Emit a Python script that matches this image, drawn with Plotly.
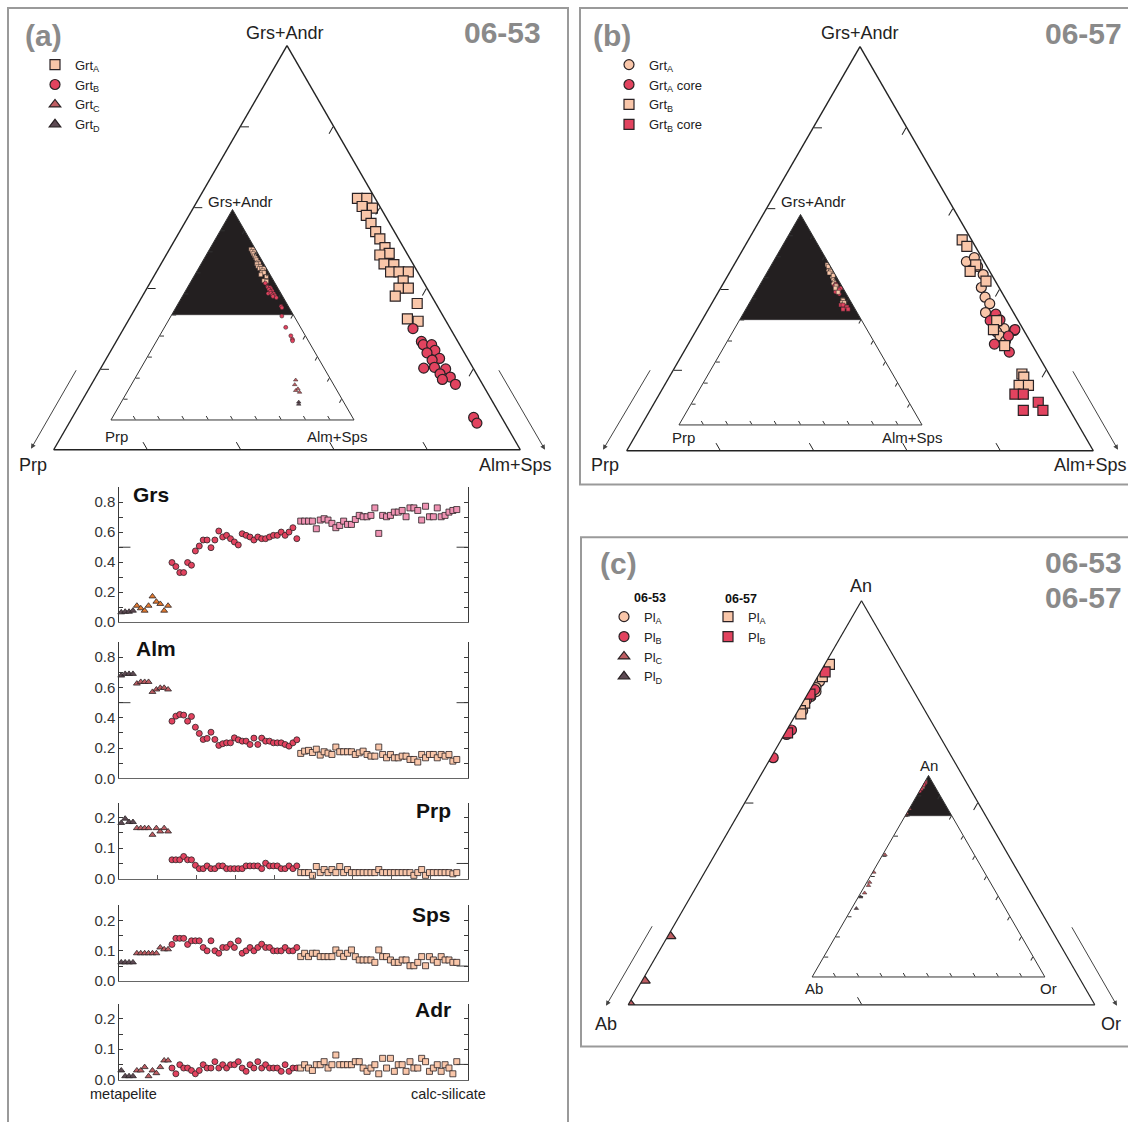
import plotly.graph_objects as go

W, H = 1128, 1122


def PX(x):
    return x / W


def PY(y):
    return 1 - y / H


OUT = '#2a2225'
LIGHT = '#f9c6a9'
RED = '#e2435f'
MAUVE = '#bf5d62'
DARK = '#5d4a53'
PINK = '#ef93b3'
ORANGE = '#e57b30'
GRAYTXT = '#8a8a8a'
FONT = 'Arial, Liberation Sans, Helvetica, sans-serif'

# ---------------- data ----------------
# (a) sample 06-53 garnet: Grs+Andr and Prp fractions (Alm+Sps = remainder)
grtA53_grsandr = [0.811, 0.811, 0.801, 0.799, 0.790, 0.780, 0.770, 0.761, 0.750, 0.743, 0.741, 0.730,
                  0.729, 0.720, 0.720, 0.720, 0.709, 0.700, 0.700, 0.690, 0.681, 0.662, 0.659]
grtA53_prp = [0.019, 0.009, 0.019, 0.009, 0.020, 0.020, 0.020, 0.020, 0.020, 0.019, 0.030, 0.031,
              0.021, 0.029, 0.020, 0.010, 0.021, 0.030, 0.020, 0.039, 0.020, 0.040, 0.030]
grtB53_grsandr = [0.650, 0.634, 0.630, 0.630, 0.623, 0.620, 0.613, 0.611, 0.601, 0.602, 0.600, 0.594,
                  0.590, 0.587, 0.581, 0.540, 0.533, 0.494, 0.440, 0.400, 0.383, 0.376]
grtB53_prp = [0.040, 0.039, 0.039, 0.030, 0.030, 0.040, 0.030, 0.039, 0.053, 0.041, 0.030, 0.039,
              0.030, 0.040, 0.029, 0.030, 0.030, 0.050, 0.061, 0.060, 0.062, 0.065]
grtC53_grsandr = [0.190, 0.168, 0.148, 0.140, 0.132]
grtC53_prp = [0.145, 0.160, 0.157, 0.170, 0.158]
grtD53_grsandr = [0.085, 0.075]
grtD53_prp = [0.185, 0.190]

# (b) sample 06-57 garnet
grtA57_grsandr = [0.734, 0.739, 0.728, 0.723, 0.718, 0.702, 0.690, 0.682, 0.671, 0.663, 0.655, 0.651,
                  0.647, 0.642, 0.649, 0.636]
grtA57_prp = [0.019, 0.008, 0.010, 0.020, 0.009, 0.019, 0.021, 0.020, 0.030, 0.026, 0.027, 0.020,
              0.030, 0.029, 0.010, 0.026]
grtAcore57_grsandr = [0.669, 0.661, 0.662, 0.650, 0.642, 0.632, 0.622]
grtAcore57_prp = [0.020, 0.030, 0.019, 0.009, 0.020, 0.040, 0.029]
grtB57_grsandr = [0.761, 0.753, 0.730, 0.722, 0.710, 0.661, 0.650, 0.630, 0.595, 0.591, 0.581, 0.581]
grtB57_prp = [0.010, 0.009, 0.011, 0.021, 0.010, 0.023, 0.032, 0.030, 0.029, 0.029, 0.039, 0.029]
grtBcore57_grsandr = [0.570, 0.570, 0.560, 0.550, 0.550]
grtBcore57_prp = [0.049, 0.040, 0.029, 0.050, 0.029]

# (c) plagioclase: An and Or fractions (Ab = remainder)
plA53_an = [0.960, 0.957, 0.955, 0.9526, 0.9456]
plA53_or = [0.002, 0.002, 0.003, 0.002, 0.002]
plB53_an = [0.956, 0.951, 0.936, 0.9338, 0.9223]
plB53_or = [0.002, 0.001, 0.002, 0.001, 0.001]
plC53_an = [0.834, 0.812, 0.801, 0.606, 0.520, 0.470, 0.454, 0.417]
plC53_or = [0.001, 0.001, 0.000, 0.010, 0.005, 0.012, 0.015, 0.017]
plD53_an = [0.397, 0.340]
plD53_or = [0.010, 0.020]
plA57_an = [0.9685, 0.9624, 0.9493, 0.9456, 0.944]
plA57_or = [0.002, 0.002, 0.001, 0.001, 0.002]
plB57_an = [0.9648, 0.9538, 0.9346]
plB57_or = [0.002, 0.001, 0.001]

# (a) garnet profiles, metapelite -> calc-silicate (Grt_D, Grt_C, Grt_B, Grt_A)
grs_D = [0.066, 0.07, 0.07, 0.077]
grs_C = [0.11, 0.093, 0.077, 0.11, 0.172, 0.137, 0.122, 0.077, 0.11]
grs_B = [0.398, 0.371, 0.331, 0.331, 0.398, 0.38, 0.475, 0.508, 0.548, 0.548, 0.497, 0.548, 0.608,
         0.568, 0.579, 0.557, 0.535, 0.515, 0.59, 0.579, 0.568, 0.548, 0.568, 0.557, 0.557, 0.568,
         0.579, 0.579, 0.601, 0.579, 0.601, 0.63, 0.557]
grs_A = [0.674, 0.674, 0.674, 0.674, 0.623, 0.681, 0.69, 0.681, 0.659, 0.63, 0.645, 0.674, 0.652,
         0.652, 0.685, 0.712, 0.703, 0.703, 0.712, 0.762, 0.592, 0.712, 0.703, 0.712, 0.734, 0.734,
         0.745, 0.703, 0.762, 0.762, 0.745, 0.681, 0.773, 0.703, 0.703, 0.762, 0.703, 0.712, 0.734,
         0.745, 0.751]

alm_D = [0.679, 0.69, 0.69, 0.69]
alm_C = [0.626, 0.637, 0.637, 0.637, 0.571, 0.587, 0.598, 0.598, 0.587]
alm_B = [0.378, 0.411, 0.422, 0.418, 0.378, 0.409, 0.338, 0.297, 0.257, 0.264, 0.305, 0.257, 0.218,
         0.229, 0.235, 0.235, 0.268, 0.255, 0.246, 0.246, 0.224, 0.266, 0.224, 0.266, 0.246, 0.246,
         0.235, 0.235, 0.235, 0.224, 0.213, 0.235, 0.255]
alm_A = [0.165, 0.18, 0.185, 0.171, 0.193, 0.154, 0.176, 0.167, 0.158, 0.207, 0.176, 0.176, 0.176,
         0.176, 0.158, 0.169, 0.18, 0.158, 0.147, 0.147, 0.207, 0.158, 0.136, 0.158, 0.136, 0.136,
         0.147, 0.147, 0.125, 0.125, 0.108, 0.158, 0.136, 0.158, 0.158, 0.136, 0.158, 0.147, 0.158,
         0.114, 0.125]

prp_D = [0.183, 0.197, 0.186, 0.186]
prp_C = [0.166, 0.166, 0.166, 0.166, 0.144, 0.166, 0.155, 0.166, 0.155]
prp_B = [0.062, 0.062, 0.062, 0.073, 0.062, 0.062, 0.044, 0.033, 0.033, 0.042, 0.033, 0.033, 0.042,
         0.042, 0.033, 0.033, 0.033, 0.033, 0.033, 0.042, 0.042, 0.042, 0.042, 0.033, 0.051, 0.042,
         0.042, 0.042, 0.033, 0.033, 0.042, 0.033, 0.042]
prp_A = [0.02, 0.02, 0.02, 0.011, 0.04, 0.02, 0.03, 0.02, 0.03, 0.02, 0.04, 0.02, 0.03, 0.02, 0.02,
         0.02, 0.02, 0.02, 0.02, 0.02, 0.03, 0.02, 0.02, 0.02, 0.02, 0.02, 0.02, 0.02, 0.02, 0.011,
         0.02, 0.03, 0.011, 0.02, 0.02, 0.02, 0.02, 0.02, 0.02, 0.016, 0.02]

sps_D = [0.062, 0.062, 0.062, 0.062]
sps_C = [0.092, 0.092, 0.092, 0.092, 0.092, 0.092, 0.111, 0.105, 0.105]
sps_B = [0.121, 0.141, 0.141, 0.141, 0.121, 0.133, 0.133, 0.133, 0.111, 0.10, 0.133, 0.10, 0.092,
         0.111, 0.111, 0.122, 0.111, 0.133, 0.092, 0.10, 0.111, 0.10, 0.111, 0.122, 0.111, 0.111,
         0.10, 0.10, 0.10, 0.111, 0.10, 0.10, 0.111]
sps_A = [0.081, 0.092, 0.081, 0.092, 0.092, 0.081, 0.081, 0.081, 0.081, 0.103, 0.092, 0.081, 0.092,
         0.103, 0.081, 0.07, 0.07, 0.07, 0.07, 0.062, 0.103, 0.081, 0.081, 0.07, 0.062, 0.062, 0.07,
         0.07, 0.051, 0.051, 0.062, 0.081, 0.051, 0.081, 0.07, 0.062, 0.081, 0.07, 0.07, 0.062, 0.062]

adr_D = [0.03, 0.011, 0.011, 0.011]
adr_C = [0.03, 0.03, 0.041, 0.011, 0.03, 0.021, 0.041, 0.063, 0.063]
adr_B = [0.038, 0.019, 0.049, 0.038, 0.038, 0.03, 0.019, 0.03, 0.049, 0.038, 0.038, 0.059, 0.038,
         0.049, 0.038, 0.049, 0.049, 0.059, 0.038, 0.027, 0.049, 0.038, 0.059, 0.038, 0.049, 0.038,
         0.038, 0.038, 0.027, 0.049, 0.027, 0.038, 0.038]
adr_A = [0.038, 0.049, 0.038, 0.03, 0.049, 0.049, 0.059, 0.038, 0.049, 0.081, 0.049, 0.049, 0.049,
         0.049, 0.059, 0.059, 0.038, 0.027, 0.038, 0.049, 0.019, 0.07, 0.038, 0.07, 0.027, 0.049,
         0.049, 0.027, 0.059, 0.038, 0.038, 0.07, 0.059, 0.027, 0.038, 0.049, 0.027, 0.049, 0.038,
         0.019, 0.059]

ZOOM_GRT = 0.5   # main garnet ternaries show Grs+Andr >= 0.5
ZOOM_PL = 0.8    # main plagioclase ternary shows An >= 0.8

fig = go.Figure()


def rest(p, q):
    return [round(1 - x - y, 4) for x, y in zip(p, q)]


def tern(a, b, c, sub, name, symbol, color, size, lw, legend=None):
    fig.add_trace(go.Scatterternary(
        a=a, b=b, c=c, mode='markers', subplot=sub, name=name,
        marker=dict(symbol=symbol, color=color, size=size, line=dict(color=OUT, width=lw)),
        showlegend=legend is not None, legend=legend or 'legend', hoverinfo='skip'))


def zoom_region(sub, zmin):
    fig.add_trace(go.Scatterternary(
        a=[1, zmin, zmin, 1], b=[0, 1 - zmin, 0, 0], c=[0, 0, 1 - zmin, 0],
        mode='lines', fill='toself', fillcolor='#231f20', line=dict(width=0.5, color='#231f20'),
        subplot=sub, showlegend=False, hoverinfo='skip'))


# ---- panel (a) ternaries ----
series_a = [
    (grtA53_grsandr, grtA53_prp, 'Grt<sub>A</sub>', 'square', LIGHT),
    (grtB53_grsandr, grtB53_prp, 'Grt<sub>B</sub>', 'circle', RED),
    (grtC53_grsandr, grtC53_prp, 'Grt<sub>C</sub>', 'triangle-up', MAUVE),
    (grtD53_grsandr, grtD53_prp, 'Grt<sub>D</sub>', 'triangle-up', DARK),
]
zoom_region('ternary2', ZOOM_GRT)
for a, b, name, sym, col in series_a:
    tern(a, b, rest(a, b), 'ternary', name, sym, col, 10, 1.2, legend='legend')
for a, b, name, sym, col in series_a:
    tern(a, b, rest(a, b), 'ternary2', name, sym, col, 4, 0.5)

# ---- panel (b) ternaries ----
series_b = [
    (grtA57_grsandr, grtA57_prp, 'Grt<sub>A</sub>', 'circle', LIGHT),
    (grtAcore57_grsandr, grtAcore57_prp, 'Grt<sub>A</sub> core', 'circle', RED),
    (grtB57_grsandr, grtB57_prp, 'Grt<sub>B</sub>', 'square', LIGHT),
    (grtBcore57_grsandr, grtBcore57_prp, 'Grt<sub>B</sub> core', 'square', RED),
]
zoom_region('ternary4', ZOOM_GRT)
for a, b, name, sym, col in series_b:
    tern(a, b, rest(a, b), 'ternary3', name, sym, col, 10, 1.2, legend='legend2')
for a, b, name, sym, col in series_b:
    tern(a, b, rest(a, b), 'ternary4', name, sym, col, 4, 0.5)

# ---- panel (c) ternaries ----
series_c = [
    (plA53_an, plA53_or, 'Pl<sub>A</sub>', 'circle', LIGHT, 'legend3'),
    (plB53_an, plB53_or, 'Pl<sub>B</sub>', 'circle', RED, 'legend3'),
    (plC53_an, plC53_or, 'Pl<sub>C</sub>', 'triangle-up', MAUVE, 'legend3'),
    (plD53_an, plD53_or, 'Pl<sub>D</sub>', 'triangle-up', DARK, 'legend3'),
    (plA57_an, plA57_or, 'Pl<sub>A</sub>', 'square', LIGHT, 'legend4'),
    (plB57_an, plB57_or, 'Pl<sub>B</sub>', 'square', RED, 'legend4'),
]
zoom_region('ternary6', ZOOM_PL)
for an, orr, name, sym, col, lg in series_c:
    tern(an, rest(an, orr), orr, 'ternary5', name, sym, col, 10, 1.2, legend=lg)
for an, orr, name, sym, col, lg in series_c:
    tern(an, rest(an, orr), orr, 'ternary6', name, sym, col, 4, 0.5)

# ---- panel (a) composition profiles ----
groups = [('D', 'triangle-up'), ('C', 'triangle-up'), ('B', 'circle'), ('A', 'square')]
profiles = [
    ('Grs', {'D': grs_D, 'C': grs_C, 'B': grs_B, 'A': grs_A},
     {'D': DARK, 'C': ORANGE, 'B': RED, 'A': PINK}),
    ('Alm', {'D': alm_D, 'C': alm_C, 'B': alm_B, 'A': alm_A},
     {'D': DARK, 'C': MAUVE, 'B': RED, 'A': LIGHT}),
    ('Prp', {'D': prp_D, 'C': prp_C, 'B': prp_B, 'A': prp_A},
     {'D': DARK, 'C': MAUVE, 'B': RED, 'A': LIGHT}),
    ('Sps', {'D': sps_D, 'C': sps_C, 'B': sps_B, 'A': sps_A},
     {'D': DARK, 'C': MAUVE, 'B': RED, 'A': LIGHT}),
    ('Adr', {'D': adr_D, 'C': adr_C, 'B': adr_B, 'A': adr_A},
     {'D': DARK, 'C': MAUVE, 'B': RED, 'A': LIGHT}),
]
for i, (lab, vals, cols) in enumerate(profiles):
    xs = 'x' if i == 0 else 'x%d' % (i + 1)
    ys = 'y' if i == 0 else 'y%d' % (i + 1)
    start = 0
    for g, sym in groups:
        v = vals[g]
        fig.add_trace(go.Scatter(
            x=list(range(start, start + len(v))), y=v, mode='markers', xaxis=xs, yaxis=ys,
            marker=dict(symbol=sym, size=6, color=cols[g], line=dict(color=OUT, width=0.8)),
            showlegend=False, hoverinfo='skip', cliponaxis=False))
        start += len(v)


# ---------------- layout ----------------
def tern_layout(x0, x1, ytop, ybot, amin, tv_a, tv_bc, lw, tl, lc):
    def ax(tv, mn):
        return dict(min=mn, showgrid=False, showticklabels=False, ticks='inside', ticklen=tl,
                    tickwidth=1, tickcolor=lc, linecolor=lc, linewidth=lw, tickmode='array',
                    tickvals=tv, title=dict(text=''))
    return dict(domain=dict(x=[PX(x0), PX(x1)], y=[PY(ybot), PY(ytop)]), sum=1,
                bgcolor='rgba(0,0,0,0)', aaxis=ax(tv_a, amin), baxis=ax(tv_bc, 0),
                caxis=ax(tv_bc, 0))


t_main = [0.6, 0.7, 0.8, 0.9]
t_bc = [0.1, 0.2, 0.3, 0.4]
t_full = [0.1, 0.2, 0.3, 0.4, 0.5, 0.6, 0.7, 0.8, 0.9]

layout = dict(
    width=W, height=H, margin=dict(l=0, r=0, t=0, b=0),
    paper_bgcolor='white', plot_bgcolor='rgba(0,0,0,0)',
    font=dict(family=FONT, color='#222'),
    ternary=tern_layout(52, 522, 46, 453, ZOOM_GRT, t_main, t_bc, 1.4, 8, '#222'),
    ternary2=tern_layout(110, 355, 211, 423, 0, t_full, t_full, 1, 4, '#333'),
    ternary3=tern_layout(625, 1095, 47, 454, ZOOM_GRT, t_main, t_bc, 1.4, 8, '#222'),
    ternary4=tern_layout(678, 923, 216, 428, 0, t_full, t_full, 1, 4, '#333'),
    ternary5=tern_layout(627, 1096, 605, 1012, ZOOM_PL, [0.9], [0.1], 1.2, 8, '#222'),
    ternary6=tern_layout(811.5, 1045.5, 781, 984, 0, t_full, t_full, 1, 4, '#333'),
)

legend_common = dict(xanchor='left', yanchor='top', bgcolor='rgba(0,0,0,0)',
                     font=dict(size=13, family=FONT, color='#222'), tracegroupgap=0,
                     itemclick=False, itemdoubleclick=False)
layout['legend'] = dict(x=PX(35), y=PY(50), **legend_common)
layout['legend2'] = dict(x=PX(609), y=PY(50), **legend_common)
layout['legend3'] = dict(x=PX(604), y=PY(606), **legend_common)
layout['legend4'] = dict(x=PX(708), y=PY(606), **legend_common)

chart_y = [(490.7, 626.7, [0, 0.9], 0.2, 0.1), (646.7, 784, [0, 0.9], 0.2, 0.1),
           (808.3, 885, [0, 0.25], 0.1, 0.05), (911.7, 988.3, [0, 0.25], 0.1, 0.05),
           (1011, 1087.3, [0, 0.25], 0.1, 0.05)]
for i, (yt, yb, rng, major, minor) in enumerate(chart_y):
    k = '' if i == 0 else str(i + 1)
    xa = dict(domain=[PX(119.3), PX(467.7)], range=[-0.5, 88.8], showline=True, linecolor='#666',
              linewidth=1.2, showticklabels=False, ticks='', showgrid=False, zeroline=False,
              anchor='y' + k)
    if i == 2:
        xa.update(ticks='inside', tickmode='linear', tick0=9.3, dtick=10, ticklen=4,
                  tickcolor='#555')
    ya = dict(domain=[PY(yb), PY(yt)], range=rng, showline=True, linecolor='#3a3a3a', linewidth=1,
              mirror='ticks', ticks='inside', ticklen=4, tickcolor='#3a3a3a', tickmode='linear',
              tick0=0, dtick=major, tickformat='.1f',
              minor=dict(dtick=minor, ticks='inside', ticklen=4, tickcolor='#3a3a3a', showgrid=False),
              showgrid=False, zeroline=False, tickfont=dict(size=15, color='#333', family=FONT),
              anchor='x' + k)
    layout['xaxis' + k] = xa
    layout['yaxis' + k] = ya

fig.update_layout(**layout)

# ---- shapes: panel frames and long mid ticks ----
frame = dict(type='rect', xref='paper', yref='paper', line=dict(color='#9a9a9a', width=2),
             fillcolor='rgba(0,0,0,0)')
fig.add_shape(x0=PX(8), x1=PX(568), y0=PY(1135), y1=PY(8), **frame)
fig.add_shape(x0=PX(580), x1=PX(1140), y0=PY(488), y1=PY(8), **frame)
fig.add_shape(x0=PX(581), x1=PX(1140), y0=PY(1054), y1=PY(541), **frame)

for i, ymid, both in [(0, 0.5, True), (1, 0.5, True), (2, 0.05, False), (3, 0.05, False),
                      (4, 0.05, False)]:
    k = '' if i == 0 else str(i + 1)
    segs = [(0.968, 1.0)] + ([(0.0, 0.032)] if both else [])
    for x0, x1 in segs:
        fig.add_shape(type='line', xref='x%s domain' % k, yref='y' + k, x0=x0, x1=x1, y0=ymid,
                      y1=ymid, line=dict(color='#3a3a3a', width=1))

# ---- annotations ----
ann = []


def text(x, y, s, size, color='#222', anchor='center', bold=False):
    ann.append(dict(x=PX(x), y=PY(y), xref='paper', yref='paper', text=('<b>%s</b>' % s) if bold else s,
                    showarrow=False, xanchor=anchor, yanchor='middle',
                    font=dict(size=size, color=color, family=FONT)))


def arrow(x_tail, y_tail, x_head, y_head):
    ann.append(dict(x=PX(x_head), y=PY(y_head), xref='paper', yref='paper', ax=x_tail - x_head,
                    ay=y_tail - y_head, axref='pixel', ayref='pixel', text='', showarrow=True,
                    arrowhead=2, arrowsize=1, arrowwidth=1, arrowcolor='#444'))


# panel titles
text(43, 36, '(a)', 30, GRAYTXT, bold=True)
text(543, 33, '06-53', 30, GRAYTXT, 'right', bold=True)
text(612, 36, '(b)', 30, GRAYTXT, bold=True)
text(1124, 34, '06-57', 30, GRAYTXT, 'right', bold=True)
text(618, 568, '(c)', 30, GRAYTXT, bold=True)
text(1124, 567, '06-53', 30, GRAYTXT, 'right', bold=True)
text(1124, 602, '06-57', 30, GRAYTXT, 'right', bold=True)

# legend headers of panel (c)
text(650, 602, '06-53', 12.5, '#111', bold=True)
text(741, 603, '06-57', 12.5, '#111', bold=True)

# ternary corner labels
text(285, 33, 'Grs+Andr', 18)
text(33, 468, 'Prp', 18)
text(515, 468, 'Alm+Sps', 18)
text(240, 203, 'Grs+Andr', 15)
text(116, 440, 'Prp', 15)
text(337, 440, 'Alm+Sps', 15)
text(860, 33, 'Grs+Andr', 18)
text(605, 468, 'Prp', 18)
text(1090, 468, 'Alm+Sps', 18)
text(813, 203, 'Grs+Andr', 15)
text(683, 441, 'Prp', 15)
text(912, 441, 'Alm+Sps', 15)
text(861, 590, 'An', 18)
text(606, 1031, 'Ab', 18)
text(1111, 1031, 'Or', 18)
text(929, 771, 'An', 15)
text(814, 996, 'Ab', 15)
text(1048, 996, 'Or', 15)

# arrows next to main triangles
arrow(77, 372, 31, 452)
arrow(498, 372, 545, 453)
arrow(651, 372, 603, 453)
arrow(1072, 373, 1118, 453)
arrow(653, 932, 606, 1013)
arrow(1071, 933, 1117, 1013)

# profile labels
text(131, 498, 'Grs', 21, '#111', 'left', bold=True)
text(134, 653, 'Alm', 21, '#111', 'left', bold=True)
text(453, 816, 'Prp', 21, '#111', 'right', bold=True)
text(453, 921, 'Sps', 21, '#111', 'right', bold=True)
text(453, 1017, 'Adr', 21, '#111', 'right', bold=True)
text(88, 1102, 'metapelite', 14.5, '#222', 'left')
text(488, 1102, 'calc-silicate', 14.5, '#222', 'right')

fig.update_layout(annotations=ann)

fig.write_html('out.html', config={'displayModeBar': False},
               post_script="document.body.style.margin='0px';")
